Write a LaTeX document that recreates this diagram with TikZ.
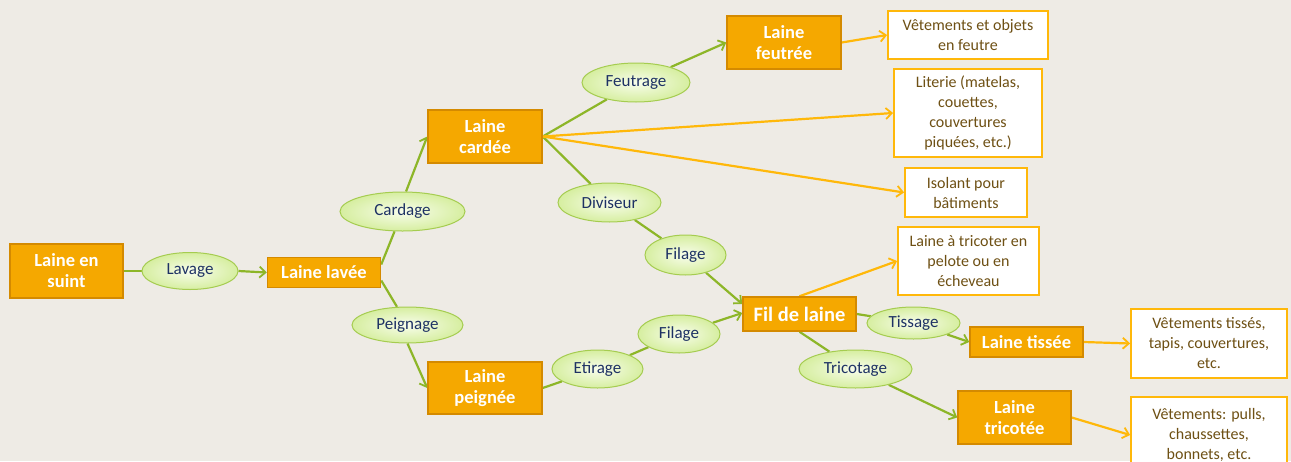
\documentclass[tikz,border=0pt]{standalone}
\usepackage{fontspec}
\setmainfont{Carlito}
\usetikzlibrary{arrows.meta,backgrounds,calc,shapes.geometric}
\definecolor{bgc}{RGB}{238,235,229}
\definecolor{oboxc}{RGB}{245,168,0}
\definecolor{oborder}{RGB}{212,138,0}
\definecolor{gline}{RGB}{141,182,40}
\definecolor{oline}{RGB}{255,184,10}
\definecolor{ebord}{RGB}{165,204,80}
\definecolor{etop}{RGB}{248,253,236}
\definecolor{ebot}{RGB}{214,238,160}
\definecolor{etext}{RGB}{30,50,100}
\definecolor{wtext}{RGB}{110,80,20}
\begin{document}
\begin{tikzpicture}[x=1pt,y=-1pt,
  obox/.style={draw=oborder, line width=1.5pt, fill=oboxc, text=white,
    font=\bfseries\fontsize{18.5}{21}\selectfont, align=center, inner sep=0pt},
  proc/.style={ellipse, draw=ebord, line width=1pt, inner color=etop, outer color=ebot,
    text=etext, font=\fontsize{17}{19}\selectfont, inner sep=0pt},
  wbox/.style={draw=oline, line width=1.8pt, fill=white, text=wtext,
    font=\fontsize{16}{20}\selectfont, align=center, inner sep=0pt},
  gconn/.style={draw=gline, line width=2.2pt},
  garrow/.style={gconn, -{Straight Barb[length=6pt,width=11pt,line width=1.8pt]}},
  oarrow/.style={draw=oline, line width=2.2pt, -{Straight Barb[length=6pt,width=11pt,line width=1.8pt]}}
]
\useasboundingbox (0,0) rectangle (1291,461);
% process boxes
\node[obox,minimum width=113,minimum height=54] (suint) at (66.5,271) {Laine en\\suint};
\node[proc,minimum width=96,minimum height=37] (lavage) at (190,271) {Lavage};
\node[obox,minimum width=113,minimum height=30] (lavee) at (324,272.5) {Laine lavée};
\node[proc,minimum width=125,minimum height=39] (cardage) at (402.5,211.5) {Cardage};
\node[proc,minimum width=111,minimum height=36] (peignage) at (407.5,325) {Peignage};
\node[obox,minimum width=114,minimum height=53] (cardee) at (485,136.5) {Laine\\cardée};
\node[obox,minimum width=114,minimum height=52] (peignee) at (485,388) {Laine\\peignée};
\node[proc,minimum width=108,minimum height=39] (feutrage) at (636,82.5) {Feutrage};
\node[obox,minimum width=114,minimum height=53] (feutree) at (784,42.5) {Laine\\feutrée};
\node[proc,minimum width=103,minimum height=39] (diviseur) at (609.5,202.5) {Diviseur};
\node[proc,minimum width=81,minimum height=40] (filageA) at (685.5,255) {Filage};
\node[proc,minimum width=91,minimum height=38] (etirage) at (597.5,369) {Etirage};
\node[proc,minimum width=82,minimum height=38] (filageB) at (679,334) {Filage};
\node[obox,minimum width=113,minimum height=34,font=\bfseries\fontsize{20.5}{24}\selectfont] (fil) at (799.5,314) {Fil de laine};
\node[proc,minimum width=93,minimum height=32] (tissage) at (913.5,323) {Tissage};
\node[proc,minimum width=113,minimum height=38] (tricotage) at (855.5,369) {Tricotage};
\node[obox,minimum width=113,minimum height=30] (tissee) at (1026.5,342) {Laine tissée};
\node[obox,minimum width=113,minimum height=53] (tricotee) at (1014.5,417.5) {Laine\\tricotée};
% products
\node[wbox,minimum width=160,minimum height=48] (vobj) at (968,35) {Vêtements et objets\\en feutre};
\node[wbox,minimum width=148,minimum height=88] (literie) at (968,113) {Literie (matelas,\\couettes,\\couvertures\\piquées, etc.)};
\node[wbox,minimum width=122,minimum height=49] (isolant) at (966,192.5) {Isolant pour\\bâtiments};
\node[wbox,minimum width=141,minimum height=68] (tricoter) at (968.5,261) {Laine à tricoter en\\pelote ou en\\écheveau};
\node[wbox,minimum width=156,minimum height=69] (vtisses) at (1209,343.5) {Vêtements tissés,\\tapis, couvertures,\\etc.};
\node[wbox,minimum width=156,minimum height=76] (vpulls) at (1209,435) {Vêtements: pulls,\\chaussettes,\\bonnets, etc.};
\begin{scope}[on background layer]
\fill[bgc] (0,0) rectangle (1291,461);
% green connectors
\draw[gconn] (suint.east) -- (lavage.west);
\draw[garrow] (lavage.east) -- (lavee.west);
\draw[gconn] ($(lavee.east)+(0,-8)$) -- (cardage);
\draw[garrow] (cardage.80) -- (cardee.west);
\draw[gconn] ($(lavee.east)+(0,8)$) -- (peignage.120);
\draw[garrow] (peignage.south) -- (peignee.west);
\draw[gconn] (cardee.east) -- (feutrage);
\draw[garrow] (feutrage) -- (feutree.west);
\draw[gconn] (cardee.east) -- (diviseur);
\draw[gconn] (diviseur) -- (filageA);
\draw[garrow] (filageA) -- ($(fil.west)+(0,-10)$);
\draw[gconn] (peignee.east) -- (etirage);
\draw[gconn] (etirage) -- (filageB);
\draw[garrow] (filageB) -- ($(fil.west)+(0,-1)$);
\draw[gconn] (fil.east) -- (tissage);
\draw[garrow] (tissage) -- (tissee.west);
\draw[gconn] (fil.south) -- (tricotage);
\draw[garrow] (tricotage) -- (tricotee.west);
% orange connectors
\draw[oarrow] (feutree.east) -- (vobj.west);
\draw[oarrow] (cardee.east) -- (literie.west);
\draw[oarrow] (cardee.east) -- (isolant.west);
\draw[oarrow] (fil.north) -- (tricoter.west);
\draw[oarrow] (tissee.east) -- (vtisses.west);
\draw[oarrow] (tricotee.east) -- (vpulls.west);
\end{scope}
\end{tikzpicture}
\end{document}
